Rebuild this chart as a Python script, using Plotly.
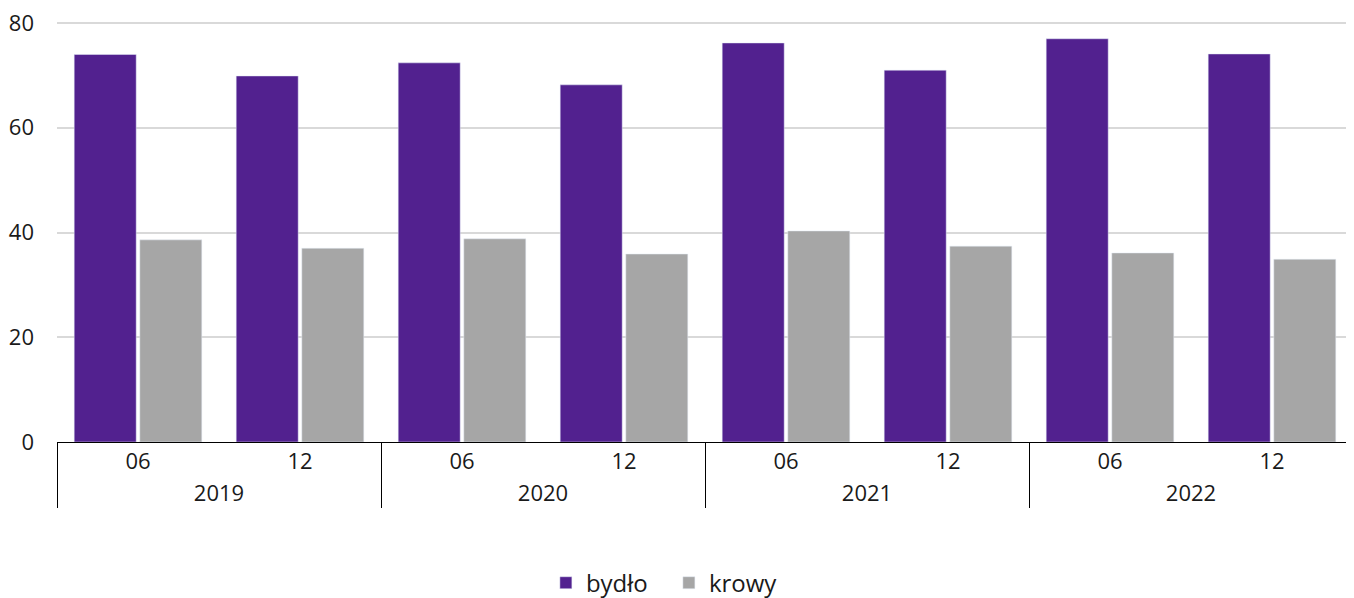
import plotly.graph_objects as go

years = ["2019", "2019", "2020", "2020", "2021", "2021", "2022", "2022"]
months = ["06", "12", "06", "12", "06", "12", "06", "12"]
bydlo = [74.0, 69.9, 72.4, 68.2, 76.2, 71.0, 77.0, 74.1]
krowy = [38.6, 37.0, 38.8, 35.9, 40.3, 37.4, 36.1, 34.9]

fig = go.Figure()
fig.add_trace(go.Bar(x=[years, months], y=bydlo, name="bydło", marker_color="#52218F"))
fig.add_trace(go.Bar(x=[years, months], y=krowy, name="krowy", marker_color="#A6A6A6"))

# page has an 8px body margin, so the figure is sized to fill the rest of the window
fig.update_layout(
    width=1346, height=590,
    margin=dict(l=49, r=1, t=14, b=156, autoexpand=False),
    plot_bgcolor="white", paper_bgcolor="white",
    font=dict(family="Open Sans", size=22, color="#1a1a1a"),
    barmode="group", bargap=0.19, bargroupgap=0.055,
    showlegend=True,
    legend=dict(orientation="h", xref="container", x=0.491, xanchor="center",
                yref="paper", y=-0.336, yanchor="middle", font=dict(size=24),
                itemwidth=30, entrywidth=78, entrywidthmode="pixels"),
)
fig.update_yaxes(range=[0, 80.2], tickvals=[0, 20, 40, 60, 80], showgrid=True,
                 gridcolor="#D9D9D9", gridwidth=2, zeroline=False, showline=False,
                 ticks="", ticklabelstandoff=22, automargin=False,
                 ticklabeloverflow="allow")
fig.update_xaxes(showline=True, linecolor="black", linewidth=1, ticks="",
                 showdividers=True, dividercolor="black", dividerwidth=1,
                 automargin=False)

fig.write_html("out.html")
